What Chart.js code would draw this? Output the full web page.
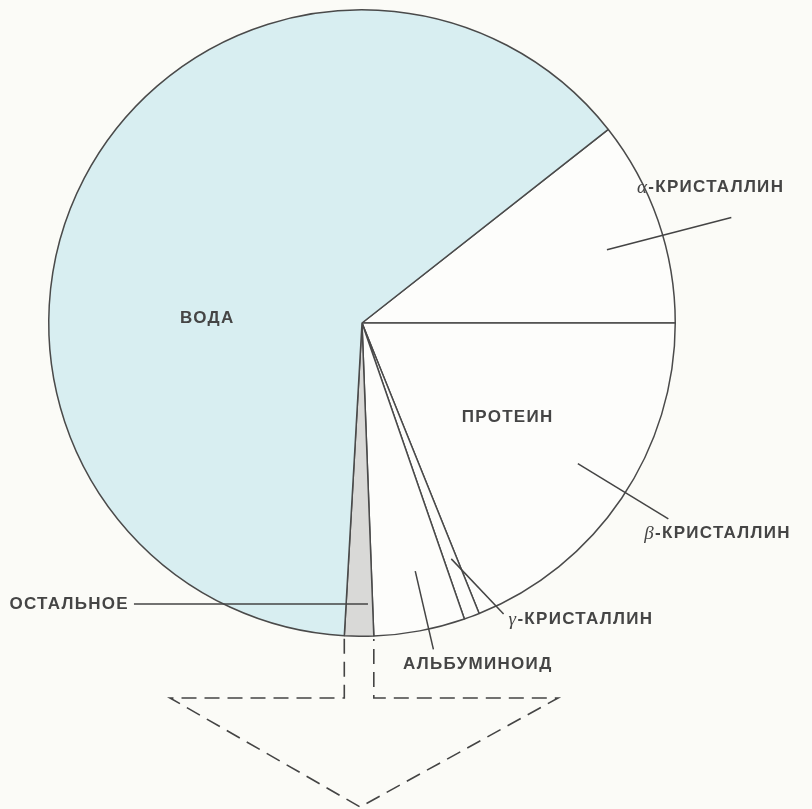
<!DOCTYPE html>
<html>
<head>
<meta charset="utf-8">
<script src="https://cdn.jsdelivr.net/npm/chart.js@4/dist/chart.umd.min.js"></script>
<style>
  body { margin: 0; background: #fbfbf7; }
  canvas { display: block; }
</style>
</head>
<body>
<canvas id="pie" width="812" height="809"></canvas>
<script>
// состав хрусталика, % (оценка по рисунку)
var labels = ["α-КРИСТАЛЛИН", "β-КРИСТАЛЛИН", "γ-КРИСТАЛЛИН", "АЛЬБУМИНОИД", "ОСТАЛЬНОЕ", "ВОДА"];
var values = [10.6, 18.9, 0.8, 4.7, 1.5, 63.5];
var colors = ["#fdfdfb", "#fdfdfb", "#fdfdfb", "#fdfdfb", "#d9d9d7", "#d8eef1"];

// подписи: координаты в долях радиуса от центра круга
var notes = [
    { text: "α-КРИСТАЛЛИН", x: 0.878, y: -0.433, align: "left", line: [0.782, -0.234, 1.179, -0.337] },
    { text: "β-КРИСТАЛЛИН", x: 0.901, y: 0.670, align: "left", line: [0.689, 0.449, 0.978, 0.625] },
    { text: "γ-КРИСТАЛЛИН", x: 0.468, y: 0.946, align: "left", line: [0.285, 0.753, 0.452, 0.929] },
    { text: "АЛЬБУМИНОИД", x: 0.131, y: 1.090, align: "left", line: [0.170, 0.792, 0.228, 1.042] },
    { text: "ОСТАЛЬНОЕ", x: -0.744, y: 0.897, align: "right", line: [-0.728, 0.897, 0.019, 0.897] },
    { text: "ВОДА", x: -0.494, y: -0.016, align: "center" },
    { text: "ПРОТЕИН", x: 0.465, y: 0.301, align: "center" }
];

var ink = "#454545";
var sans = "bold 17px 'Liberation Sans', Arial, sans-serif";
var serif = "italic 19px 'Liberation Serif', serif";

function drawLabel(ctx, n, x, y) {
    ctx.textBaseline = "middle";
    ctx.fillStyle = ink;
    ctx.letterSpacing = "1.3px";
    var greek = /^[αβγ]/.test(n.text);
    var rest = greek ? n.text.slice(1) : n.text;
    ctx.font = sans;
    var w = ctx.measureText(rest).width;
    var gw = 0;
    if (greek) {
        ctx.font = serif;
        gw = ctx.measureText(n.text[0]).width;
    }
    var left = x;
    if (n.align === "center") left = x - (w + gw) / 2;
    if (n.align === "right") left = x - (w + gw);
    ctx.textAlign = "left";
    if (greek) {
        ctx.font = serif;
        ctx.fillText(n.text[0], left, y + 1);
    }
    ctx.font = sans;
    ctx.fillText(rest, left + gw, y);
}

var notesPlugin = {
    id: "notes",
    afterDatasetsDraw: function (chart) {
        var ctx = chart.ctx;
        var arcs = chart.getDatasetMeta(0).data;
        var cx = arcs[0].x, cy = arcs[0].y, R = arcs[0].outerRadius;
        ctx.save();

        // пунктирная стрелка от сектора «остальное»
        var rest = arcs[4];
        var a1 = rest.startAngle, a2 = rest.endAngle;
        var xr = cx + R * Math.cos(a1), yr = cy + R * Math.sin(a1);
        var xl = cx + R * Math.cos(a2), yl = cy + R * Math.sin(a2);
        var yb = cy + R * 1.197;
        ctx.strokeStyle = "#444";
        ctx.lineWidth = 1.6;
        ctx.setLineDash([15, 8]);
        ctx.beginPath();
        ctx.moveTo(xl, yl + 3);
        ctx.lineTo(xl, yb);
        ctx.lineTo(cx - R * 0.613, yb);
        ctx.lineTo(cx - R * 0.006, cy + R * 1.545);
        ctx.lineTo(cx + R * 0.626, yb);
        ctx.lineTo(xr, yb);
        ctx.lineTo(xr, yr + 3);
        ctx.stroke();
        ctx.setLineDash([]);

        // выноски
        ctx.lineWidth = 1.5;
        notes.forEach(function (n) {
            if (!n.line) return;
            ctx.beginPath();
            ctx.moveTo(cx + R * n.line[0], cy + R * n.line[1]);
            ctx.lineTo(cx + R * n.line[2], cy + R * n.line[3]);
            ctx.stroke();
        });
        notes.forEach(function (n) {
            drawLabel(ctx, n, cx + R * n.x, cy + R * n.y);
        });
        ctx.restore();
    }
};

var ctx = document.getElementById("pie").getContext("2d");
var chart = new Chart(ctx, {
    type: "pie",
    data: {
        labels: labels,
        datasets: [{
            data: values,
            backgroundColor: colors,
            borderColor: "#4a4a4a",
            borderWidth: 1.5,
            hoverOffset: 0,
            offset: 0
        }]
    },
    options: {
        responsive: false,
        animation: false,
        // граница α/β проходит горизонтально вправо
        rotation: 90 - values[0] * 3.6,
        layout: { padding: { left: 48, right: 136, top: 9, bottom: 172 } },
        plugins: {
            legend: { display: false },
            tooltip: { enabled: false }
        }
    },
    plugins: [notesPlugin]
});
</script>
</body>
</html>
